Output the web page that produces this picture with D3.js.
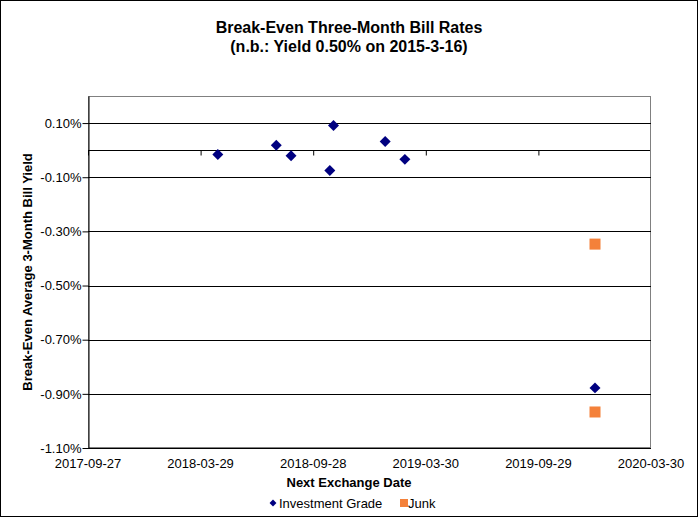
<!DOCTYPE html>
<html><head><meta charset="utf-8">
<script src="https://cdn.jsdelivr.net/npm/d3@7"></script>
<style>body{margin:0;background:#fff}svg{display:block;font-family:"Liberation Sans",Arial,sans-serif}</style>
</head><body><svg id="c" width="698" height="517"></svg>
<script>
const titleLines = ["Break-Even Three-Month Bill Rates", "(n.b.: Yield 0.50% on 2015-3-16)"];
const yTitle = "Break-Even Average 3-Month Bill Yield";
const xTitle = "Next Exchange Date";
const seriesNames = ["Investment Grade", "Junk"];
const igDates = ["2018-04-26","2018-07-30","2018-08-23","2018-10-31","2018-10-25","2019-01-23","2019-02-24","2019-12-30"];
const igValues = [-0.016, 0.018, -0.021, 0.091, -0.075, 0.032, -0.034, -0.878];
const junkDates = ["2019-12-30","2019-12-30"];
const junkValues = [-0.347, -0.967];
const xDomain = ["2017-09-27","2020-03-30"];
const xTickStepDays = 183;
const yTicks = [0.1, -0.1, -0.3, -0.5, -0.7, -0.9, -1.1];
const yDomain = [-1.1, 0.2];

const parse = d3.utcParse("%Y-%m-%d");
const fmt = d3.utcFormat("%Y-%m-%d");
const svg = d3.select("#c");
const L = 88, R = 651, T = 96, B = 448;

svg.append("rect").attr("x",0.5).attr("y",0.5).attr("width",697).attr("height",516)
  .attr("fill","#fff").attr("stroke","#000");

const x = d3.scaleUtc().domain(xDomain.map(parse)).range([L, R]);
const y = d3.scaleLinear().domain(yDomain).range([B, T]);

// plot border
svg.append("rect").attr("x",L+0.5).attr("y",T+0.5).attr("width",R-L-1).attr("height",B-T-1)
  .attr("fill","none").attr("stroke","#808080");

// gridlines
svg.append("g").selectAll("line").data(yTicks.filter(v=>v>-1.1)).join("line")
  .attr("x1",L).attr("x2",R).attr("y1",d=>Math.round(y(d))+0.5).attr("y2",d=>Math.round(y(d))+0.5)
  .attr("stroke","#000");

// y axis
const yAxis = d3.axisLeft(y).tickValues(yTicks).tickSize(6).tickSizeOuter(0)
  .tickFormat(d=>d3.format(".2f")(d).replace("\u2212","-")+"%");
const gy = svg.append("g").attr("transform",`translate(${L+0.5},0)`).call(yAxis);
gy.select(".domain").attr("stroke","#000");
gy.selectAll(".tick line").attr("stroke","#000");
gy.selectAll(".tick text").attr("font-size",13).attr("fill","#000").attr("x",-7).attr("font-family","Liberation Sans, Arial, sans-serif");

// x axis at zero
const x0 = parse(xDomain[0]).getTime();
const xTickVals = d3.range(0, 6).map(i => new Date(x0 + i*xTickStepDays*864e5));
const xAxis = d3.axisBottom(x).tickValues(xTickVals.slice(0,5)).tickSize(5).tickSizeOuter(0).tickFormat(()=>"");
const gx = svg.append("g").attr("transform",`translate(0,${Math.round(y(0))+0.5})`).call(xAxis);
gx.select(".domain").attr("stroke","#000").attr("d",`M${L},0H${R-1}`);
gx.selectAll(".tick line").attr("stroke","#000");

// bottom line & labels
svg.append("line").attr("x1",L).attr("x2",R).attr("y1",B+0.5).attr("y2",B+0.5).attr("stroke","#000");
svg.append("g").selectAll("text").data(xTickVals).join("text")
  .attr("x",d=>x(d)).attr("y",468).attr("text-anchor","middle").attr("font-size",13).text(d=>fmt(d));

// titles
svg.append("g").selectAll("text").data(titleLines).join("text")
  .attr("x",349).attr("y",(d,i)=>33+i*19).attr("text-anchor","middle")
  .attr("font-size",16).attr("font-weight","bold").text(d=>d);
svg.append("text").attr("x",349).attr("y",487).attr("text-anchor","middle")
  .attr("font-size",13).attr("font-weight","bold").text(xTitle);
svg.append("text").attr("transform",`translate(32,${(T+B)/2}) rotate(-90)`).attr("text-anchor","middle")
  .attr("font-size",13).attr("font-weight","bold").text(yTitle);

// points
const diamond = d3.symbol().type(d3.symbolSquare).size(60);
svg.append("g").selectAll("path").data(igDates.map((d,i)=>({d:parse(d),v:igValues[i]}))).join("path")
  .attr("d",diamond()).attr("fill","#000080")
  .attr("transform",p=>`translate(${x(p.d)},${y(p.v*1)}) rotate(45)`);
svg.append("g").selectAll("rect").data(junkDates.map((d,i)=>({d:parse(d),v:junkValues[i]}))).join("rect")
  .attr("x",p=>x(p.d)-5.5).attr("y",p=>y(p.v)-5.5).attr("width",11).attr("height",11).attr("fill","#F4813A");

// legend
const lg = svg.append("g").attr("font-size",13);
lg.append("path").attr("d",d3.symbol().type(d3.symbolSquare).size(24)()).attr("fill","#000080")
  .attr("transform","translate(273,503) rotate(45)");
lg.append("text").attr("x",279).attr("y",508).text(seriesNames[0]);
lg.append("rect").attr("x",400).attr("y",499).attr("width",8).attr("height",8).attr("fill","#F4813A");
lg.append("text").attr("x",408).attr("y",508).text(seriesNames[1]);
</script></body></html>
